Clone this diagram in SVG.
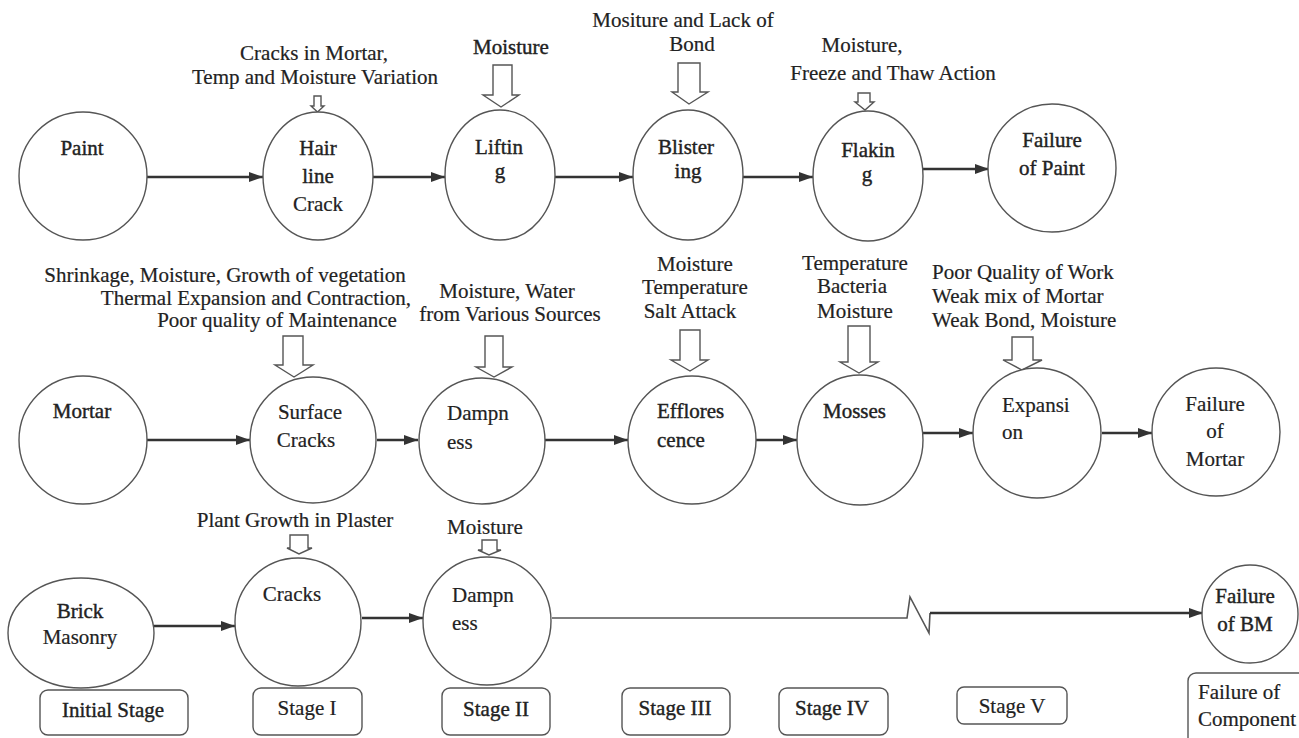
<svg xmlns="http://www.w3.org/2000/svg" width="1299" height="738" viewBox="0 0 1299 738">
<defs>
<style>
text{font-family:"Liberation Serif","Times New Roman",serif;font-size:21px;fill:#222;stroke:#222;stroke-width:0.2}
.m{text-anchor:middle}
.b{stroke:#222;stroke-width:0.4}
.n{fill:#fff;stroke:#555;stroke-width:1.4}
.ha{fill:#fff;stroke:#555;stroke-width:1.4;stroke-linejoin:miter}
.c{fill:none;stroke:#333;stroke-width:2.4}
.t{fill:none;stroke:#555;stroke-width:1.6}
.box{fill:#fff;stroke:#555;stroke-width:1.4}
</style>
<marker id="ah" markerUnits="userSpaceOnUse" markerWidth="16" markerHeight="12" refX="14" refY="6" orient="auto">
<path d="M0,1 L14,6 L0,11 Z" fill="#333"/>
</marker>
</defs>
<rect width="1299" height="738" fill="#fff"/>

<g id="connectors">
<line class="c" x1="147" y1="177" x2="263" y2="177" marker-end="url(#ah)"/>
<line class="c" x1="373" y1="177" x2="445" y2="177" marker-end="url(#ah)"/>
<line class="c" x1="555" y1="177" x2="633" y2="177" marker-end="url(#ah)"/>
<line class="c" x1="743" y1="177" x2="813" y2="177" marker-end="url(#ah)"/>
<line class="c" x1="922" y1="169" x2="989" y2="169" marker-end="url(#ah)"/>
<line class="c" x1="147" y1="440" x2="250" y2="440" marker-end="url(#ah)"/>
<line class="c" x1="377" y1="440" x2="418" y2="440" marker-end="url(#ah)"/>
<line class="c" x1="545" y1="440" x2="628" y2="440" marker-end="url(#ah)"/>
<line class="c" x1="755" y1="440" x2="797" y2="440" marker-end="url(#ah)"/>
<line class="c" x1="922" y1="433" x2="973" y2="433" marker-end="url(#ah)"/>
<line class="c" x1="1102" y1="433" x2="1152" y2="433" marker-end="url(#ah)"/>
<line class="c" x1="154" y1="626" x2="235" y2="626" marker-end="url(#ah)"/>
<line class="c" x1="362" y1="618" x2="423" y2="618" marker-end="url(#ah)"/>
<polyline class="t" points="552,618 907,618 910,597 929,633 930,613"/>
<line class="c" x1="930" y1="613" x2="1203" y2="613" marker-end="url(#ah)"/>
</g>

<g id="causes">
<path class="ha" d="M314 96 H321 V106 H324 L317.5 112 L311 106 H314 Z"/>
<path class="ha" d="M493 65 H512 V95 H519 L501 107 L483 95 H493 Z"/>
<path class="ha" d="M678 63 H700 V92 H708 L689 104 L672 92 H678 Z"/>
<path class="ha" d="M858 93 H870 V102 H874 L865 110 L855 102 H858 Z"/>
<path class="ha" d="M283 336 H303 V365 H313 L294 377 L275 365 H283 Z"/>
<path class="ha" d="M485 336 H503 V367 H512 L494 377 L476 367 H485 Z"/>
<path class="ha" d="M680 330 H700 V360 H708 L690 371 L671 360 H680 Z"/>
<path class="ha" d="M848 326 H870 V362 H878 L859 373 L840 362 H848 Z"/>
<path class="ha" d="M1012 337 H1033 V360 H1042 L1022 370 L1003 360 H1012 Z"/>
<path class="ha" d="M290 535 H308 V548 H312 L299 554 L287 548 H290 Z"/>
<path class="ha" d="M482 540 H497 V550 H501 L489 555 L478 550 H482 Z"/>

<text class="m" x="314" y="60">Cracks in Mortar,</text>
<text class="m" x="315" y="84">Temp and Moisture Variation</text>
<text class="m b" x="511" y="54">Moisture</text>
<text class="m" x="683" y="27">Mositure and Lack of</text>
<text class="m" x="692" y="51">Bond</text>
<text class="m" x="862" y="52">Moisture,</text>
<text class="m" x="893" y="80">Freeze and Thaw Action</text>

<text class="m" x="225" y="282">Shrinkage, Moisture, Growth of vegetation</text>
<text class="m" x="256" y="305">Thermal Expansion and Contraction,</text>
<text class="m" x="277" y="327">Poor quality of Maintenance</text>
<text class="m" x="507" y="298">Moisture, Water</text>
<text class="m" x="510" y="321">from Various Sources</text>
<text class="m" x="695" y="271">Moisture</text>
<text class="m" x="695" y="294">Temperature</text>
<text class="m" x="690" y="318">Salt Attack</text>
<text class="m" x="855" y="270">Temperature</text>
<text class="m" x="852" y="293">Bacteria</text>
<text class="m" x="855" y="318">Moisture</text>
<text x="932" y="279">Poor Quality of Work</text>
<text x="932" y="303">Weak mix of Mortar</text>
<text x="932" y="327">Weak Bond, Moisture</text>

<text class="m" x="295" y="527">Plant Growth in Plaster</text>
<text class="m" x="485" y="534">Moisture</text>
</g>

<g id="node-paint"><ellipse class="n" cx="83" cy="176" rx="64" ry="64"/><text class="m b" x="82" y="155">Paint</text></g>
<g id="node-hairline"><ellipse class="n" cx="318" cy="176" rx="55" ry="64"/><text class="m b" x="318" y="155">Hair</text><text class="m b" x="318" y="183">line</text><text class="m" x="318" y="211">Crack</text></g>
<g id="node-lifting"><ellipse class="n" cx="500" cy="175" rx="55" ry="65"/><text class="m b" x="499" y="154">Liftin</text><text class="m b" x="500" y="178">g</text></g>
<g id="node-blistering"><ellipse class="n" cx="688" cy="175" rx="55" ry="65"/><text class="m b" x="686" y="154">Blister</text><text class="m b" x="688" y="178">ing</text></g>
<g id="node-flaking"><ellipse class="n" cx="868" cy="176" rx="55" ry="65"/><text class="m b" x="868" y="157">Flakin</text><text class="m b" x="867" y="181">g</text></g>
<g id="node-failure-paint"><ellipse class="n" cx="1052" cy="168" rx="64" ry="64"/><text class="m b" x="1052" y="147">Failure</text><text class="m b" x="1052" y="175">of Paint</text></g>

<g id="node-mortar"><ellipse class="n" cx="83" cy="440" rx="64" ry="64"/><text class="m b" x="82" y="418">Mortar</text></g>
<g id="node-surface-cracks"><ellipse class="n" cx="313" cy="440" rx="63" ry="63"/><text class="m" x="310" y="419">Surface</text><text class="m" x="306" y="447">Cracks</text></g>
<g id="node-dampness"><ellipse class="n" cx="482" cy="441" rx="63" ry="63"/><text x="447" y="420">Dampn</text><text x="447" y="449">ess</text></g>
<g id="node-efflorescence"><ellipse class="n" cx="692" cy="440" rx="64" ry="64"/><text class="b" x="657" y="418">Efflores</text><text class="b" x="657" y="447">cence</text></g>
<g id="node-mosses"><ellipse class="n" cx="860" cy="440" rx="63" ry="65"/><text class="b" x="823" y="418">Mosses</text></g>
<g id="node-expansion"><ellipse class="n" cx="1037" cy="433" rx="64" ry="65"/><text x="1002" y="412">Expansi</text><text x="1002" y="439">on</text></g>
<g id="node-failure-mortar"><ellipse class="n" cx="1216" cy="432" rx="64" ry="64"/><text class="m" x="1215" y="411">Failure</text><text class="m" x="1215" y="438">of</text><text class="m" x="1215" y="466">Mortar</text></g>

<g id="node-brick"><ellipse class="n" cx="81" cy="633" rx="73" ry="55"/><text class="m b" x="80" y="618">Brick</text><text class="m" x="80" y="644">Masonry</text></g>
<g id="node-cracks"><ellipse class="n" cx="298" cy="622" rx="63" ry="64"/><text class="m" x="292" y="601">Cracks</text></g>
<g id="node-dampness-bm"><ellipse class="n" cx="487" cy="621" rx="64" ry="64"/><text x="452" y="602">Dampn</text><text x="452" y="630">ess</text></g>
<g id="node-failure-bm"><ellipse class="n" cx="1250" cy="614" rx="48" ry="49"/><text class="m b" x="1245" y="603">Failure</text><text class="m b" x="1245" y="631">of BM</text></g>

<g id="stage-initial"><rect class="box" x="40" y="690" width="148" height="45" rx="8"/><text class="m b" x="113" y="717">Initial Stage</text></g>
<g id="stage-1"><rect class="box" x="253" y="688" width="109" height="47" rx="8"/><text class="m" x="307" y="715">Stage I</text></g>
<g id="stage-2"><rect class="box" x="442" y="688" width="108" height="47" rx="8"/><text class="m b" x="496" y="716">Stage II</text></g>
<g id="stage-3"><rect class="box" x="622" y="688" width="108" height="47" rx="8"/><text class="m b" x="675" y="715">Stage III</text></g>
<g id="stage-4"><rect class="box" x="779" y="688" width="109" height="47" rx="8"/><text class="m b" x="832" y="715">Stage IV</text></g>
<g id="stage-5"><rect class="box" x="957" y="687" width="110" height="37" rx="7"/><text class="m" x="1012" y="713">Stage V</text></g>
<g id="stage-failure"><rect class="box" x="1188" y="673" width="125" height="75" rx="8"/><text x="1198" y="699">Failure of</text><text x="1198" y="726">Component</text></g>
</svg>
